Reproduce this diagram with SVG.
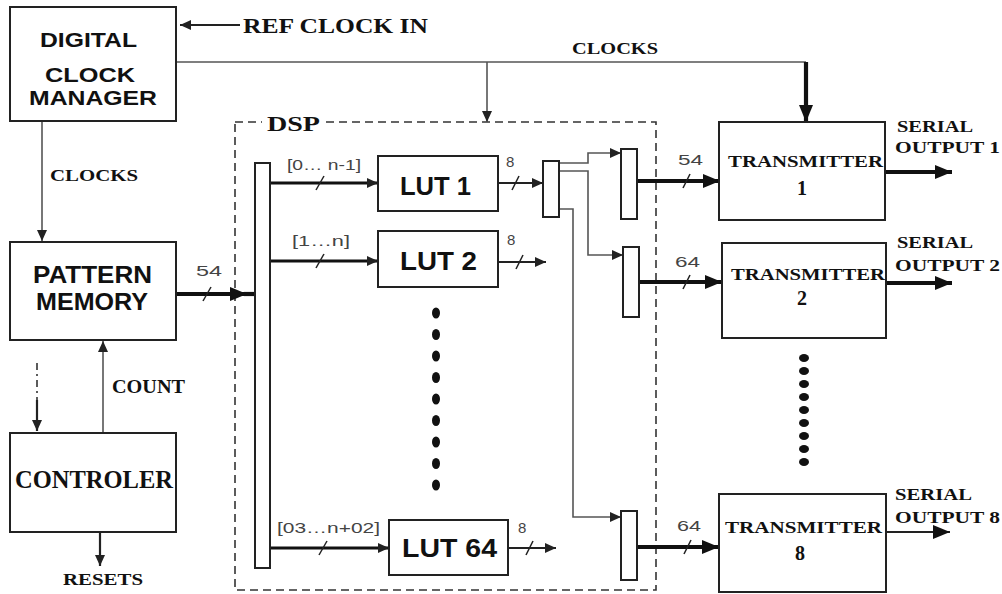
<svg xmlns="http://www.w3.org/2000/svg" width="1002" height="594" viewBox="0 0 1002 594">
<style>
.box{fill:#fff;stroke:#222;stroke-width:2}
.mux{fill:#fff;stroke:#222;stroke-width:2}
.thin{fill:none;stroke:#555;stroke-width:1.6}
.med{fill:none;stroke:#222;stroke-width:2.2}
.thick{fill:none;stroke:#111;stroke-width:3.2}
.heavy{fill:none;stroke:#111;stroke-width:4.2}
.slash{stroke:#222;stroke-width:1.5}
.sb{font-family:"Liberation Sans",Arial,sans-serif;font-weight:bold;fill:#111}
.sr{font-family:"Liberation Serif","Times New Roman",serif;font-weight:bold;fill:#111}
.lb{font-family:"Liberation Sans",Arial,sans-serif;fill:#444;font-size:15px}
.dot{fill:#111}
</style>
<defs>
<marker id="ah" markerUnits="userSpaceOnUse" markerWidth="12" markerHeight="10" refX="11" refY="5" orient="auto"><path d="M0,0 L11,5 L0,10 z" fill="#222"/></marker>
<marker id="ahb" markerUnits="userSpaceOnUse" markerWidth="18" markerHeight="14" refX="17" refY="7" orient="auto"><path d="M0,0 L17,7 L0,14 z" fill="#111"/></marker>
</defs>

<g id="dsp">
<rect x="235" y="122" width="421" height="468" fill="none" stroke="#333" stroke-width="1.6" stroke-dasharray="8 5"/>
<rect x="262" y="113" width="64" height="20" fill="#fff"/>
<text class="sr" x="267" y="131" font-size="22" textLength="53" lengthAdjust="spacingAndGlyphs">DSP</text>
</g>

<g id="connectors">
<line class="med" x1="240" y1="25" x2="180" y2="25" marker-end="url(#ah)"/>
<path class="thin" d="M176,62 H806"/>
<line class="thin" x1="487" y1="62" x2="487" y2="122" marker-end="url(#ah)"/>
<line class="heavy" x1="806" y1="62" x2="806" y2="122" marker-end="url(#ahb)"/>
<line class="thin" x1="42" y1="121" x2="42" y2="241" marker-end="url(#ah)"/>
<path class="heavy" d="M176,294 H247" marker-end="url(#ahb)"/>
<path class="heavy" d="M244,294 H255"/>
<line class="slash" x1="203" y1="301" x2="211" y2="287"/>
<line class="thick" x1="270" y1="183" x2="378" y2="183" marker-end="url(#ah)"/>
<line class="slash" x1="316" y1="190" x2="324" y2="176"/>
<line class="thick" x1="270" y1="261" x2="378" y2="261" marker-end="url(#ah)"/>
<line class="slash" x1="316" y1="268" x2="324" y2="254"/>
<line class="thick" x1="270" y1="548" x2="389" y2="548" marker-end="url(#ah)"/>
<line class="slash" x1="319" y1="555" x2="327" y2="541"/>
<line class="med" x1="498" y1="183" x2="543" y2="183" marker-end="url(#ah)"/>
<line class="slash" x1="512" y1="190" x2="519" y2="176"/>
<line class="med" x1="498" y1="262" x2="546" y2="262" marker-end="url(#ah)"/>
<line class="slash" x1="516" y1="269" x2="523" y2="255"/>
<line class="med" x1="508" y1="548" x2="556" y2="548" marker-end="url(#ah)"/>
<line class="slash" x1="526" y1="555" x2="533" y2="541"/>
<path class="thin" d="M559,163 H588 V153 H621" marker-end="url(#ah)"/>
<path class="thin" d="M559,171 H588 V255 H623" marker-end="url(#ah)"/>
<path class="thin" d="M559,209 H573 V517 H621" marker-end="url(#ah)"/>
<line class="heavy" x1="637" y1="181" x2="720" y2="181" marker-end="url(#ahb)"/>
<line class="slash" x1="683" y1="188" x2="690" y2="174"/>
<line class="heavy" x1="639" y1="282" x2="722" y2="282" marker-end="url(#ahb)"/>
<line class="slash" x1="683" y1="289" x2="690" y2="275"/>
<line class="heavy" x1="637" y1="547" x2="719" y2="547" marker-end="url(#ahb)"/>
<line class="slash" x1="684" y1="554" x2="691" y2="540"/>
<line class="heavy" x1="885" y1="172" x2="952" y2="172" marker-end="url(#ahb)"/>
<line class="heavy" x1="886" y1="283" x2="952" y2="283" marker-end="url(#ahb)"/>
<line class="med" x1="886" y1="532" x2="950" y2="532" marker-end="url(#ahb)"/>
<line class="thin" x1="103" y1="433" x2="103" y2="341" marker-end="url(#ah)"/>
<line x1="37" y1="363" x2="37" y2="400" stroke="#333" stroke-width="1.6" stroke-dasharray="7 4 2 4"/>
<line class="med" x1="37" y1="400" x2="37" y2="431" marker-end="url(#ah)"/>
<line class="med" x1="100" y1="532" x2="100" y2="566" marker-end="url(#ah)"/>
</g>

<g id="dcm">
<rect class="box" x="10" y="7" width="166" height="114"/>
<text class="sb" x="40" y="47" font-size="21" textLength="97" lengthAdjust="spacingAndGlyphs">DIGITAL</text>
<text class="sb" x="45" y="82" font-size="21" textLength="90" lengthAdjust="spacingAndGlyphs">CLOCK</text>
<text class="sb" x="29" y="105" font-size="21" textLength="128" lengthAdjust="spacingAndGlyphs">MANAGER</text>
</g>

<g id="pattern-memory">
<rect class="box" x="10" y="242" width="166" height="98"/>
<text class="sb" x="33" y="283" font-size="23" textLength="119" lengthAdjust="spacingAndGlyphs">PATTERN</text>
<text class="sb" x="36" y="310" font-size="23" textLength="112" lengthAdjust="spacingAndGlyphs">MEMORY</text>
</g>

<g id="controler">
<rect class="box" x="10" y="433" width="166" height="99"/>
<text class="sr" x="15" y="488" font-size="25" textLength="158" lengthAdjust="spacingAndGlyphs">CONTROLER</text>
</g>

<g id="bus">
<rect class="mux" x="255" y="163" width="15" height="405"/>
</g>

<g id="lut1">
<rect class="box" x="378" y="156" width="120" height="55"/>
<text class="sb" x="400" y="195" font-size="26" textLength="71" lengthAdjust="spacingAndGlyphs">LUT 1</text>
</g>
<g id="lut2">
<rect class="box" x="378" y="231" width="120" height="56"/>
<text class="sb" x="400" y="270" font-size="26" textLength="77" lengthAdjust="spacingAndGlyphs">LUT 2</text>
</g>
<g id="lut64">
<rect class="box" x="389" y="520" width="119" height="55"/>
<text class="sb" x="402" y="557" font-size="26" textLength="95" lengthAdjust="spacingAndGlyphs">LUT 64</text>
</g>

<g id="mux-split"><rect class="mux" x="543" y="161" width="16" height="56"/></g>
<g id="mux-tx1"><rect class="mux" x="621" y="149" width="16" height="70"/></g>
<g id="mux-tx2"><rect class="mux" x="623" y="247" width="16" height="70"/></g>
<g id="mux-tx8"><rect class="mux" x="621" y="511" width="16" height="69"/></g>

<g id="tx1">
<rect class="box" x="719" y="122" width="166" height="98"/>
<text class="sr" x="728" y="167" font-size="17" textLength="155" lengthAdjust="spacingAndGlyphs">TRANSMITTER</text>
<text class="sr" x="802" y="195" font-size="20" text-anchor="middle">1</text>
</g>
<g id="tx2">
<rect class="box" x="722" y="243" width="164" height="95"/>
<text class="sr" x="731" y="280" font-size="17" textLength="154" lengthAdjust="spacingAndGlyphs">TRANSMITTER</text>
<text class="sr" x="802" y="305" font-size="20" text-anchor="middle">2</text>
</g>
<g id="tx8">
<rect class="box" x="719" y="494" width="167" height="98"/>
<text class="sr" x="725" y="533" font-size="17" textLength="157" lengthAdjust="spacingAndGlyphs">TRANSMITTER</text>
<text class="sr" x="800" y="560" font-size="20" text-anchor="middle">8</text>
</g>

<g id="dots-lut">
<ellipse class="dot" cx="436" cy="313" rx="4" ry="5.5"/>
<ellipse class="dot" cx="436" cy="334.5" rx="4" ry="5.5"/>
<ellipse class="dot" cx="436" cy="356" rx="4" ry="5.5"/>
<ellipse class="dot" cx="436" cy="377.5" rx="4" ry="5.5"/>
<ellipse class="dot" cx="436" cy="399" rx="4" ry="5.5"/>
<ellipse class="dot" cx="436" cy="420.5" rx="4" ry="5.5"/>
<ellipse class="dot" cx="436" cy="442" rx="4" ry="5.5"/>
<ellipse class="dot" cx="436" cy="463.5" rx="4" ry="5.5"/>
<ellipse class="dot" cx="436" cy="485" rx="4" ry="5.5"/>
</g>
<g id="dots-tx">
<ellipse class="dot" cx="804" cy="358" rx="5" ry="4"/>
<ellipse class="dot" cx="804" cy="371" rx="5" ry="4"/>
<ellipse class="dot" cx="804" cy="384" rx="5" ry="4"/>
<ellipse class="dot" cx="804" cy="397" rx="5" ry="4"/>
<ellipse class="dot" cx="804" cy="410" rx="5" ry="4"/>
<ellipse class="dot" cx="804" cy="423" rx="5" ry="4"/>
<ellipse class="dot" cx="804" cy="436" rx="5" ry="4"/>
<ellipse class="dot" cx="804" cy="449" rx="5" ry="4"/>
<ellipse class="dot" cx="804" cy="462" rx="5" ry="4"/>
</g>

<g id="labels">
<text class="sr" x="243" y="33" font-size="22" textLength="185" lengthAdjust="spacingAndGlyphs">REF CLOCK IN</text>
<text class="sr" x="572" y="54" font-size="17" textLength="86" lengthAdjust="spacingAndGlyphs">CLOCKS</text>
<text class="sr" x="50" y="181" font-size="17" textLength="88" lengthAdjust="spacingAndGlyphs">CLOCKS</text>
<text class="sr" x="112" y="393" font-size="18" textLength="73" lengthAdjust="spacingAndGlyphs">COUNT</text>
<text class="sr" x="63" y="585" font-size="17" textLength="80" lengthAdjust="spacingAndGlyphs">RESETS</text>
<text class="sr" x="897" y="132" font-size="17" textLength="76" lengthAdjust="spacingAndGlyphs">SERIAL</text>
<text class="sr" x="895" y="153" font-size="17" textLength="105" lengthAdjust="spacingAndGlyphs">OUTPUT 1</text>
<text class="sr" x="897" y="248" font-size="17" textLength="76" lengthAdjust="spacingAndGlyphs">SERIAL</text>
<text class="sr" x="895" y="271" font-size="17" textLength="105" lengthAdjust="spacingAndGlyphs">OUTPUT 2</text>
<text class="sr" x="895" y="500" font-size="17" textLength="77" lengthAdjust="spacingAndGlyphs">SERIAL</text>
<text class="sr" x="895" y="523" font-size="17" textLength="105" lengthAdjust="spacingAndGlyphs">OUTPUT 8</text>
<text class="lb" x="196" y="276" textLength="26" lengthAdjust="spacingAndGlyphs">54</text>
<text class="lb" x="287" y="170" textLength="74" lengthAdjust="spacingAndGlyphs">[0… n-1]</text>
<text class="lb" x="292" y="246" textLength="58" lengthAdjust="spacingAndGlyphs">[1…n]</text>
<text class="lb" x="277" y="533" textLength="103" lengthAdjust="spacingAndGlyphs">[03…n+02]</text>
<text class="lb" x="506" y="167">8</text>
<text class="lb" x="507" y="245">8</text>
<text class="lb" x="518" y="533">8</text>
<text class="lb" x="678" y="165" textLength="25" lengthAdjust="spacingAndGlyphs">54</text>
<text class="lb" x="675" y="267" textLength="25" lengthAdjust="spacingAndGlyphs">64</text>
<text class="lb" x="677" y="531" textLength="24" lengthAdjust="spacingAndGlyphs">64</text>
</g>
</svg>
